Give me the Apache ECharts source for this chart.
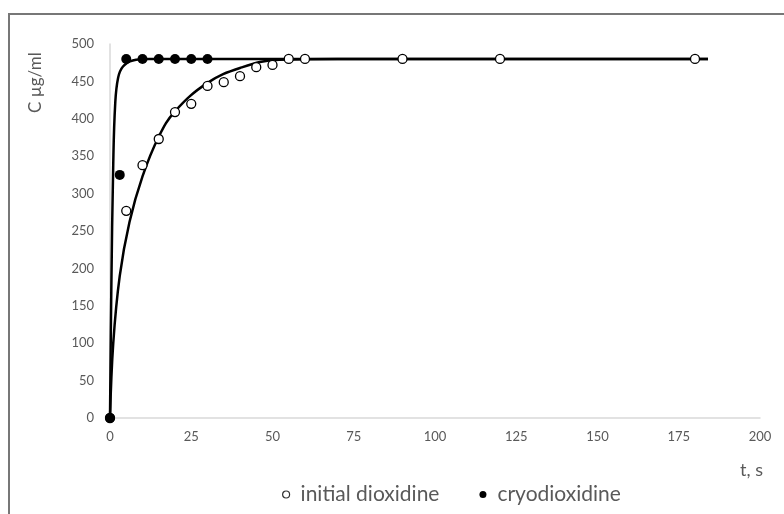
<!DOCTYPE html>
<html>
<head>
<meta charset="utf-8">
<script src="https://cdn.jsdelivr.net/npm/echarts@6/dist/echarts.min.js"></script>
<style>
  html, body { margin: 0; padding: 0; background: #fff; }
  #chart { width: 784px; height: 514px; }
</style>
</head>
<body>
<div id="chart"></div>
<script>
// measured points
var initialT = [0, 5, 10, 15, 20, 25, 30, 35, 40, 45, 50, 55, 60, 90, 120, 180];
var initialC = [0, 277, 338, 373, 409, 420, 444, 449, 457, 469, 472, 480, 480, 480, 480, 480];
var cryoT = [0, 3, 5, 10, 15, 20, 25, 30];
var cryoC = [0, 325, 480, 480, 480, 480, 480, 480];

// fitted curves
var initialFitT = [0, 1, 3, 6, 10, 15, 20, 30, 40, 52, 70, 184];
var initialFitC = [0, 100, 190, 262, 323, 376, 410, 448, 468, 479, 480, 480];
var cryoFitT = [0, 0.4, 1, 1.6, 2.5, 4, 7, 12, 184];
var cryoFitC = [0, 170, 340, 420, 455, 470, 478, 480, 480];

var xTicks = [0, 25, 50, 75, 100, 125, 150, 175, 200];
var yTicks = [0, 50, 100, 150, 200, 250, 300, 350, 400, 450, 500];

function pairs(xs, ys) {
  var out = [];
  for (var i = 0; i < xs.length; i++) out.push([xs[i], ys[i]]);
  return out;
}

var font = "Lato, 'Open Sans', sans-serif";
var chart = echarts.init(document.getElementById('chart'));

var option = {
  animation: false,
  backgroundColor: '#fff',
  textStyle: { fontFamily: font },
  grid: { left: 110, right: 24, top: 44, bottom: 96 },
  xAxis: {
    type: 'value',
    min: xTicks[0],
    max: xTicks[xTicks.length - 1],
    interval: 25,
    axisLine: { show: true, lineStyle: { color: '#d9d9d9', width: 1.5 } },
    axisTick: { show: false },
    splitLine: { show: false },
    axisLabel: { color: '#595959', fontSize: 13, margin: 12, fontFamily: font }
  },
  yAxis: {
    type: 'value',
    min: yTicks[0],
    max: yTicks[yTicks.length - 1],
    interval: 50,
    axisLine: { show: true, lineStyle: { color: '#d9d9d9', width: 1.5 } },
    axisTick: { show: false },
    splitLine: { show: false },
    axisLabel: { color: '#595959', fontSize: 13, margin: 16, fontFamily: font }
  },
  legend: {
    top: 479,
    left: 277,
    itemWidth: 7,
    itemHeight: 7,
    itemGap: 40,
    textStyle: { color: '#595959', fontSize: 21, fontFamily: font, padding: [0, 0, 0, 6] },
    data: [
      { name: 'initial dioxidine', icon: 'circle', itemStyle: { color: '#fff', borderColor: '#333', borderWidth: 1.2 } },
      { name: 'cryodioxidine', icon: 'circle', itemStyle: { color: '#000' } }
    ]
  },
  graphic: [
    { type: 'line', shape: { x1: 8, y1: 14, x2: 784, y2: 14 }, style: { stroke: '#777', lineWidth: 2 } },
    { type: 'line', shape: { x1: 9, y1: 14, x2: 9, y2: 514 }, style: { stroke: '#777', lineWidth: 2 } },
    { type: 'text', x: 740, y: 461, style: { text: 't, s', fill: '#595959', fontSize: 18, fontFamily: font } },
    { type: 'text', x: 27, y: 113, rotation: Math.PI / 2, style: { text: 'C µg/ml', fill: '#595959', fontSize: 17, fontFamily: font } }
  ],
  series: [
    {
      name: 'initial fit', type: 'line', data: pairs(initialFitT, initialFitC),
      smooth: 0.4, showSymbol: false, silent: true, z: 2,
      lineStyle: { color: '#000', width: 2.5 }
    },
    {
      name: 'cryo fit', type: 'line', data: pairs(cryoFitT, cryoFitC),
      smooth: 0.4, showSymbol: false, silent: true, z: 2,
      lineStyle: { color: '#000', width: 2.5 }
    },
    {
      name: 'initial dioxidine', type: 'scatter', data: pairs(initialT, initialC),
      symbol: 'circle', symbolSize: 9, z: 3,
      itemStyle: { color: '#fff', borderColor: '#000', borderWidth: 1.3, opacity: 1 }
    },
    {
      name: 'cryodioxidine', type: 'scatter', data: pairs(cryoT, cryoC),
      symbol: 'circle', symbolSize: 10, z: 4,
      itemStyle: { color: '#000', opacity: 1 }
    }
  ]
};

chart.setOption(option);
</script>
</body>
</html>
